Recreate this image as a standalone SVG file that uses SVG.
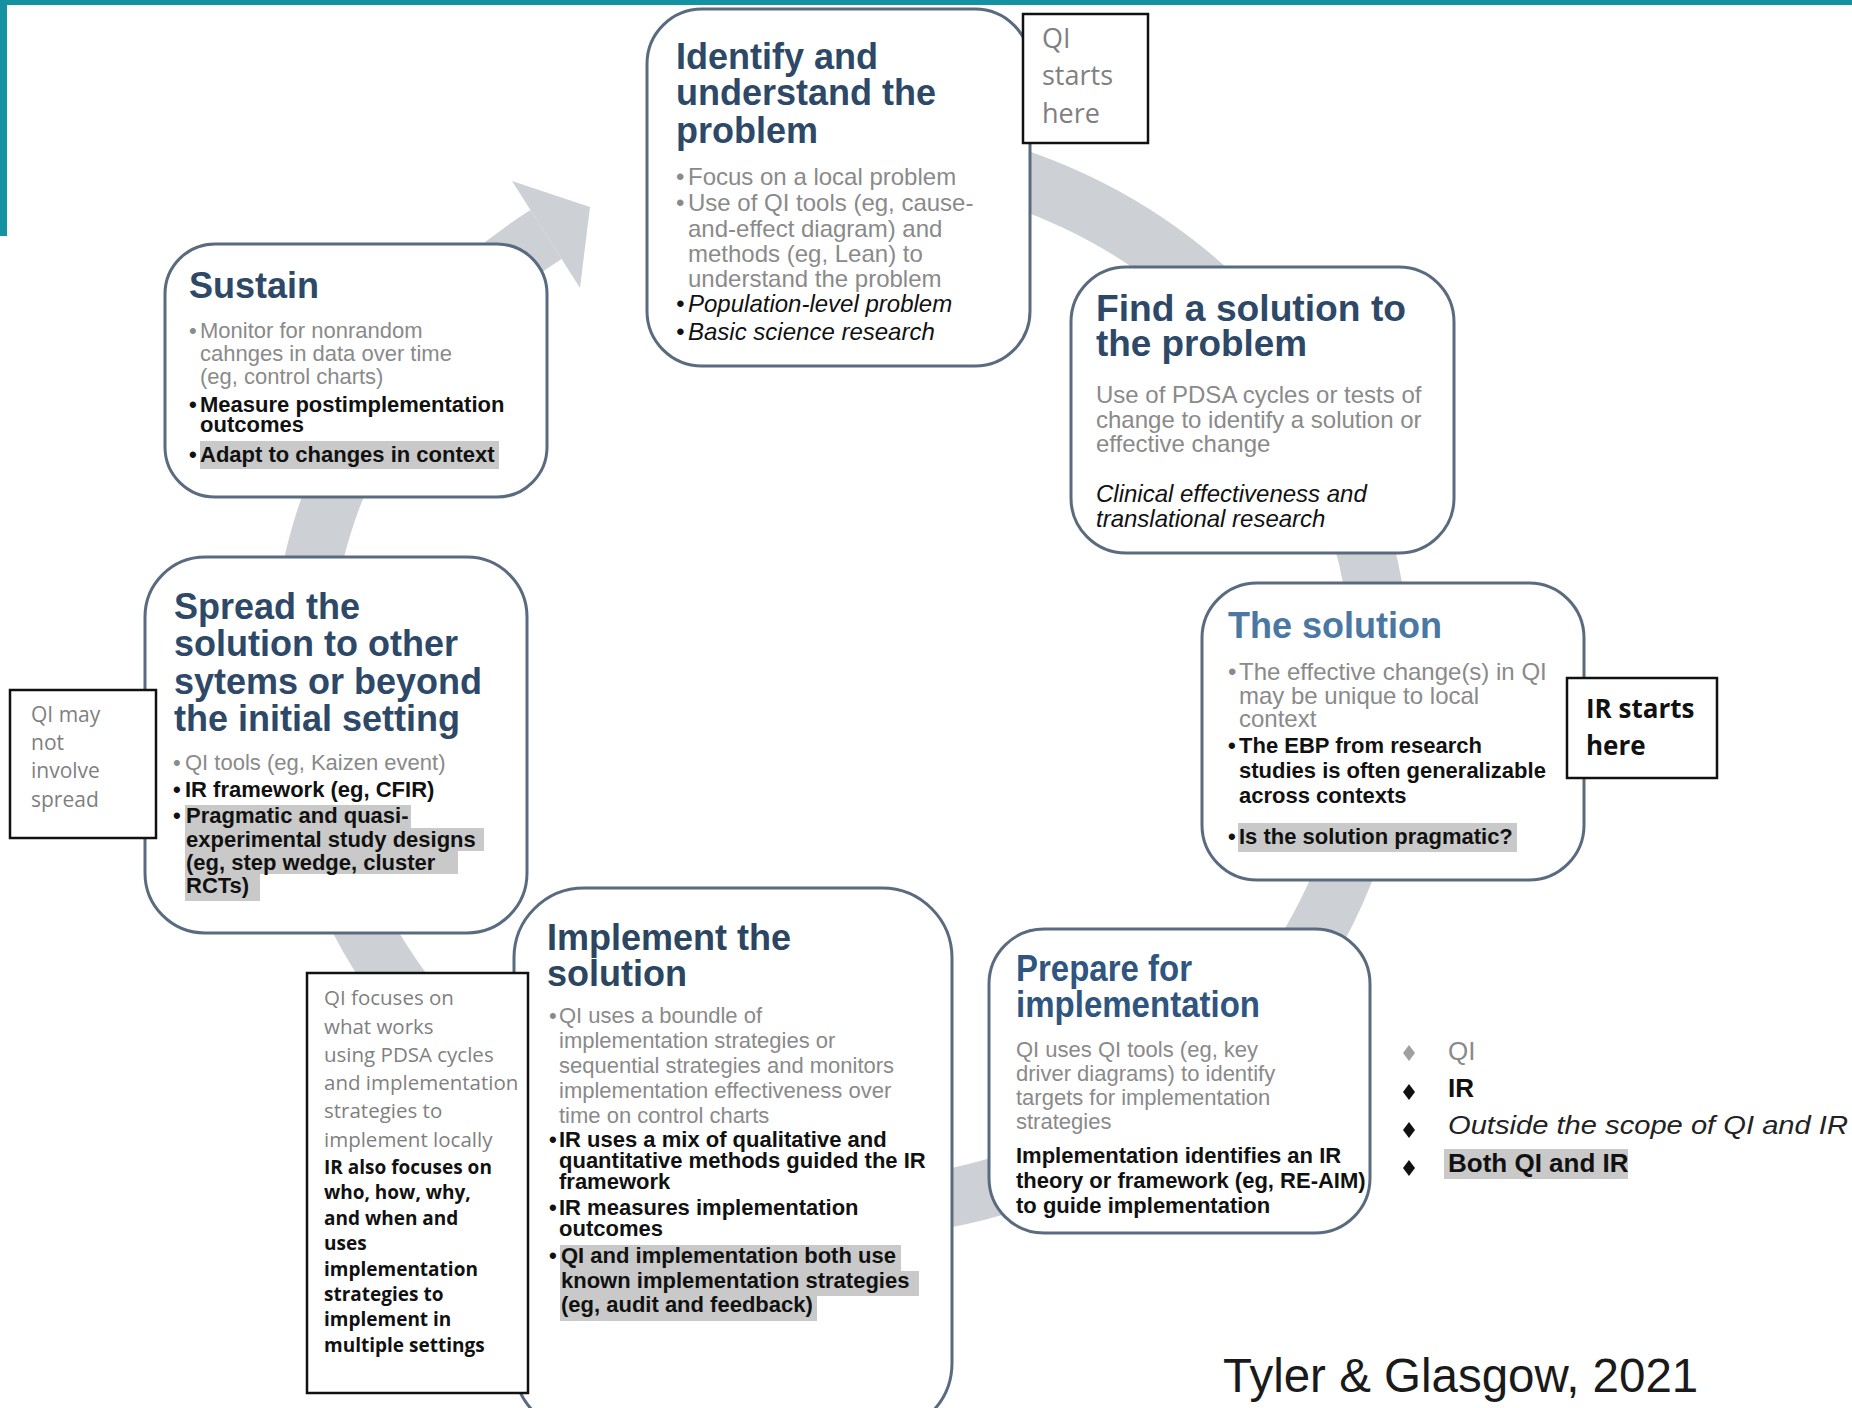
<svg xmlns="http://www.w3.org/2000/svg" width="1852" height="1408" viewBox="0 0 1852 1408">
  <defs>
    <style>
      text { font-family: "Liberation Sans", Arial, sans-serif; }
      .card { fill: #ffffff; stroke: #5a6b7f; stroke-width: 3; }
      .note { fill: #ffffff; stroke: #111111; stroke-width: 2.5; }
      .ttl { font-weight: bold; font-size: 36px; fill: #2e4968; }
      .g { fill: #8a8a8a; font-size: 22px; }
      .b { fill: #111111; font-size: 22px; font-weight: bold; }
      .it { fill: #111111; font-size: 24px; font-style: italic; }
      .g24 { fill: #8a8a8a; font-size: 24px; }
      .hl { fill: #c9c9c9; }
      .cal { font-family: "Open Sans", "Liberation Sans", sans-serif; fill: #7f7f7f; }
      .calb { font-family: "Open Sans", "Liberation Sans", sans-serif; fill: #111111; font-weight: bold; }
      .ring { fill: none; stroke: #cdd1d5; stroke-width: 58; }
      .dia { fill: #111111; }
    </style>
  </defs>

  <rect x="0" y="0" width="1852" height="1408" fill="#ffffff"/>

  <!-- slide frame accents -->
  <rect x="0" y="0" width="1852" height="5" fill="#1592a2"/>
  <rect x="0" y="0" width="7" height="236" fill="#1592a2"/>

  <!-- cycle ring with arrowhead -->
  <g id="connectors">
    <path class="ring" d="M 841 149 A 541 530 0 1 1 546 234.5"/>
    <polygon points="512,181 590,207 580,288" fill="#cdd1d5"/>
  </g>

  <!-- Identify and understand the problem -->
  <g id="identify">
    <rect class="card" x="647" y="9" width="383" height="357" rx="55"/>
    <text class="ttl" x="676" y="69" font-size="36.5">Identify and</text>
    <text class="ttl" x="676" y="105" font-size="36.5">understand the</text>
    <text class="ttl" x="676" y="143" font-size="36.5">problem</text>
    <text class="g24" x="676" y="185">•</text>
    <text class="g24" x="688" y="185">Focus on a local problem</text>
    <text class="g24" x="676" y="211">•</text>
    <text class="g24" x="688" y="211">Use of QI tools (eg, cause-</text>
    <text class="g24" x="688" y="237">and-effect diagram) and</text>
    <text class="g24" x="688" y="262">methods (eg, Lean) to</text>
    <text class="g24" x="688" y="287">understand the problem</text>
    <text class="it" x="676" y="312">•</text>
    <text class="it" x="688" y="312">Population-level problem</text>
    <text class="it" x="676" y="340">•</text>
    <text class="it" x="688" y="340">Basic science research</text>
  </g>

  <g id="qi-starts">
    <rect class="note" x="1023" y="14" width="125" height="129"/>
    <text class="cal" x="1042" y="48" font-size="27">QI</text>
    <text class="cal" x="1042" y="85" font-size="27">starts</text>
    <text class="cal" x="1042" y="123" font-size="27">here</text>
  </g>

  <!-- Find a solution -->
  <g id="find-solution">
    <rect class="card" x="1071" y="267" width="383" height="286" rx="55"/>
    <text class="ttl" x="1096" y="321" font-size="37" textLength="310" lengthAdjust="spacingAndGlyphs">Find a solution to</text>
    <text class="ttl" x="1096" y="356" font-size="37" textLength="211" lengthAdjust="spacingAndGlyphs">the problem</text>
    <text class="g24" x="1096" y="403">Use of PDSA cycles or tests of</text>
    <text class="g24" x="1096" y="428">change to identify a solution or</text>
    <text class="g24" x="1096" y="452">effective change</text>
    <text class="it" x="1096" y="502">Clinical effectiveness and</text>
    <text class="it" x="1096" y="527">translational research</text>
  </g>

  <!-- The solution -->
  <g id="the-solution">
    <rect class="card" x="1202" y="583" width="382" height="297" rx="55"/>
    <text class="ttl" x="1228" y="638" style="fill:#4a78a3">The solution</text>
    <text class="g24" x="1228" y="680">•</text>
    <text class="g24" x="1239" y="680">The effective change(s) in QI</text>
    <text class="g24" x="1239" y="704">may be unique to local</text>
    <text class="g24" x="1239" y="727">context</text>
    <text class="b" x="1228" y="753">•</text>
    <text class="b" x="1239" y="753">The EBP from research</text>
    <text class="b" x="1239" y="778">studies is often generalizable</text>
    <text class="b" x="1239" y="803">across contexts</text>
    <rect class="hl" x="1238" y="823" width="279" height="29"/>
    <text class="b" x="1228" y="844">•</text>
    <text class="b" x="1239" y="844">Is the solution pragmatic?</text>
  </g>

  <g id="ir-starts">
    <rect class="note" x="1567" y="678" width="150" height="100"/>
    <text class="calb" x="1586" y="718" font-size="26">IR starts</text>
    <text class="calb" x="1586" y="755" font-size="26">here</text>
  </g>

  <!-- Prepare for implementation -->
  <g id="prepare">
    <rect class="card" x="989" y="929" width="381" height="304" rx="55"/>
    <text class="ttl" x="1016" y="981" font-size="33" style="fill:#2f5580" textLength="176" lengthAdjust="spacingAndGlyphs">Prepare for</text>
    <text class="ttl" x="1016" y="1017" font-size="33" style="fill:#2f5580" textLength="244" lengthAdjust="spacingAndGlyphs">implementation</text>
    <text class="g" x="1016" y="1057">QI uses QI tools (eg, key</text>
    <text class="g" x="1016" y="1081">driver diagrams) to identify</text>
    <text class="g" x="1016" y="1105">targets for implementation</text>
    <text class="g" x="1016" y="1129">strategies</text>
    <text class="b" x="1016" y="1163">Implementation identifies an IR</text>
    <text class="b" x="1016" y="1188">theory or framework (eg, RE-AIM)</text>
    <text class="b" x="1016" y="1213">to guide implementation</text>
  </g>

  <!-- Legend -->
  <g id="legend">
    <polygon points="1409,1045 1415,1053 1409,1061 1403,1053" fill="#a0a0a0"/>
    <text x="1448" y="1060" font-size="26" fill="#8a8a8a">QI</text>
    <polygon class="dia" points="1409,1084 1415,1092 1409,1100 1403,1092"/>
    <text x="1448" y="1097" font-size="26" font-weight="bold" fill="#111111">IR</text>
    <polygon class="dia" points="1409,1122 1415,1130 1409,1138 1403,1130"/>
    <text x="1448" y="1134" font-size="26" font-style="italic" fill="#222222" textLength="400" lengthAdjust="spacingAndGlyphs">Outside the scope of QI and IR</text>
    <rect class="hl" x="1444" y="1149" width="184" height="30"/>
    <polygon class="dia" points="1409,1160 1415,1168 1409,1176 1403,1168"/>
    <text x="1448" y="1172" font-size="26" font-weight="bold" fill="#111111">Both QI and IR</text>
  </g>

  <!-- Implement the solution -->
  <g id="implement">
    <rect class="card" x="514" y="888" width="438" height="545" rx="70"/>
    <text class="ttl" x="547" y="950" font-size="36.5" style="fill:#2c4560">Implement the</text>
    <text class="ttl" x="547" y="986" font-size="36.5" style="fill:#2c4560">solution</text>
    <text class="g" x="549" y="1023">•</text>
    <text class="g" x="559" y="1023">QI uses a boundle of</text>
    <text class="g" x="559" y="1048">implementation strategies or</text>
    <text class="g" x="559" y="1073">sequential strategies and monitors</text>
    <text class="g" x="559" y="1098">implementation effectiveness over</text>
    <text class="g" x="559" y="1123">time on control charts</text>
    <text class="b" x="549" y="1147">•</text>
    <text class="b" x="559" y="1147">IR uses a mix of qualitative and</text>
    <text class="b" x="559" y="1168">quantitative methods guided the IR</text>
    <text class="b" x="559" y="1189">framework</text>
    <text class="b" x="549" y="1215">•</text>
    <text class="b" x="559" y="1215">IR measures implementation</text>
    <text class="b" x="559" y="1236">outcomes</text>
    <rect class="hl" x="560" y="1245" width="341" height="26"/>
    <rect class="hl" x="560" y="1271" width="359" height="25"/>
    <rect class="hl" x="560" y="1296" width="257" height="25"/>
    <text class="b" x="549" y="1263">•</text>
    <text class="b" x="561" y="1263">QI and implementation both use</text>
    <text class="b" x="561" y="1288">known implementation strategies</text>
    <text class="b" x="561" y="1312">(eg, audit and feedback)</text>
  </g>

  <g id="qi-focuses">
    <rect class="note" x="307" y="973" width="221" height="420"/>
    <text class="cal" x="324" y="1005" font-size="20.5">QI focuses on</text>
    <text class="cal" x="324" y="1034" font-size="20.5">what works</text>
    <text class="cal" x="324" y="1062" font-size="20.5">using PDSA cycles</text>
    <text class="cal" x="324" y="1090" font-size="20.5">and implementation</text>
    <text class="cal" x="324" y="1118" font-size="20.5">strategies to</text>
    <text class="cal" x="324" y="1147" font-size="20.5">implement locally</text>
    <text class="calb" x="324" y="1174" font-size="19">IR also focuses on</text>
    <text class="calb" x="324" y="1199" font-size="19">who, how, why,</text>
    <text class="calb" x="324" y="1225" font-size="19">and when and</text>
    <text class="calb" x="324" y="1250" font-size="19">uses</text>
    <text class="calb" x="324" y="1276" font-size="19">implementation</text>
    <text class="calb" x="324" y="1301" font-size="19">strategies to</text>
    <text class="calb" x="324" y="1326" font-size="19">implement in</text>
    <text class="calb" x="324" y="1352" font-size="19">multiple settings</text>
  </g>

  <!-- Spread the solution -->
  <g id="spread">
    <rect class="card" x="145" y="557" width="382" height="376" rx="60"/>
    <text class="ttl" x="174" y="619" font-size="37">Spread the</text>
    <text class="ttl" x="174" y="656" font-size="37">solution to other</text>
    <text class="ttl" x="174" y="694" font-size="37">sytems or beyond</text>
    <text class="ttl" x="174" y="731" font-size="37">the initial setting</text>
    <text class="g" x="173" y="770">•</text>
    <text class="g" x="185" y="770">QI tools (eg, Kaizen event)</text>
    <text class="b" x="173" y="797">•</text>
    <text class="b" x="185" y="797">IR framework (eg, CFIR)</text>
    <rect class="hl" x="185" y="805" width="226" height="23"/>
    <rect class="hl" x="185" y="828" width="299" height="23"/>
    <rect class="hl" x="185" y="851" width="273" height="23"/>
    <rect class="hl" x="185" y="874" width="75" height="27"/>
    <text class="b" x="173" y="823">•</text>
    <text class="b" x="186" y="823">Pragmatic and quasi-</text>
    <text class="b" x="186" y="847">experimental study designs</text>
    <text class="b" x="186" y="870">(eg, step wedge, cluster</text>
    <text class="b" x="186" y="893">RCTs)</text>
  </g>

  <g id="qi-may-not">
    <rect class="note" x="10" y="690" width="146" height="148"/>
    <text class="cal" x="31" y="722" font-size="21">QI may</text>
    <text class="cal" x="31" y="750" font-size="21">not</text>
    <text class="cal" x="31" y="778" font-size="21">involve</text>
    <text class="cal" x="31" y="807" font-size="21">spread</text>
  </g>

  <!-- Sustain -->
  <g id="sustain">
    <rect class="card" x="165" y="244" width="382" height="253" rx="50"/>
    <text class="ttl" x="189" y="298">Sustain</text>
    <text class="g" x="189" y="338">•</text>
    <text class="g" x="200" y="338">Monitor for nonrandom</text>
    <text class="g" x="200" y="361">cahnges in data over time</text>
    <text class="g" x="200" y="384">(eg, control charts)</text>
    <text class="b" x="189" y="412">•</text>
    <text class="b" x="200" y="412">Measure postimplementation</text>
    <text class="b" x="200" y="432">outcomes</text>
    <rect class="hl" x="200" y="441" width="299" height="28"/>
    <text class="b" x="189" y="462">•</text>
    <text class="b" x="200" y="462">Adapt to changes in context</text>
  </g>

  <g id="citation">
    <text x="1223" y="1392" font-size="47.5" fill="#1a1a1a">Tyler &amp; Glasgow, 2021</text>
  </g>
</svg>
